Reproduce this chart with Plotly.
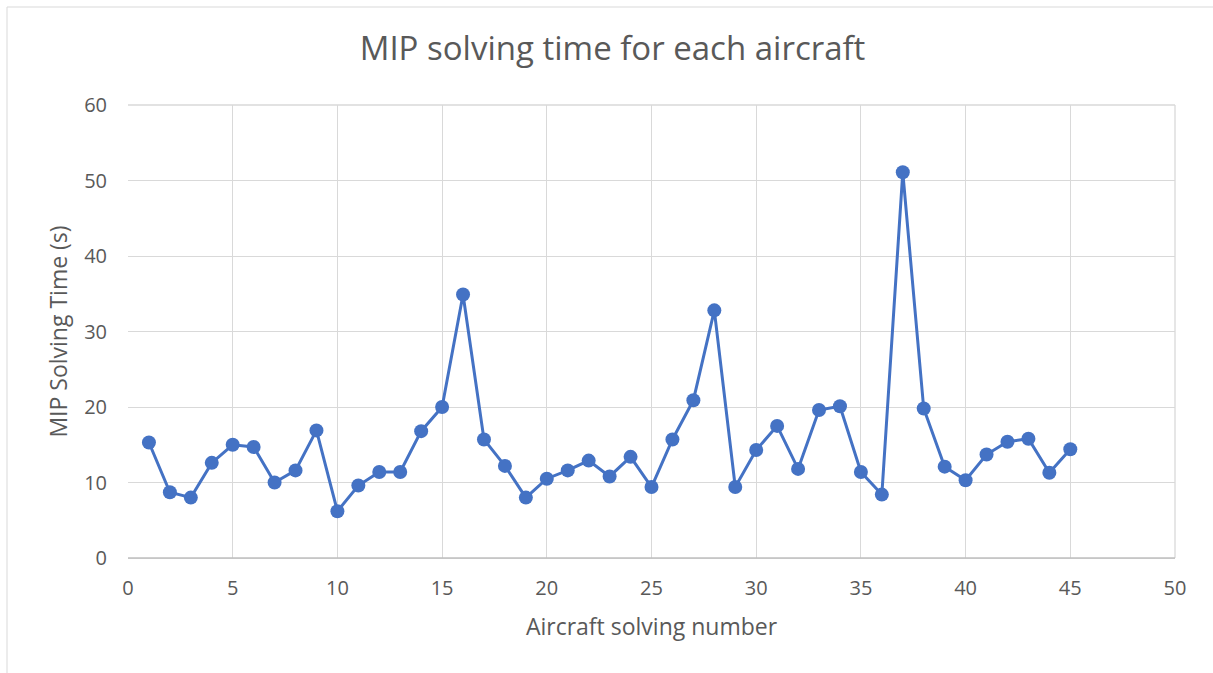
import plotly.graph_objects as go

aircraft_number = list(range(1, 46))
solving_time = [
    15.3, 8.7, 8.0, 12.6, 15.0, 14.7, 10.0, 11.6, 16.9, 6.2,
    9.6, 11.4, 11.4, 16.8, 20.0, 34.9, 15.7, 12.2, 8.0, 10.5,
    11.6, 12.9, 10.8, 13.4, 9.4, 15.7, 20.9, 32.8, 9.4, 14.3,
    17.5, 11.8, 19.6, 20.1, 11.4, 8.4, 51.1, 19.8, 12.1, 10.3,
    13.7, 15.4, 15.8, 11.3, 14.4,
]
x_ticks = [0, 5, 10, 15, 20, 25, 30, 35, 40, 45, 50]
y_ticks = [0, 10, 20, 30, 40, 50, 60]

W, H = 1213, 673
L, R, T, B = 128, 38, 105, 115
pw, ph = W - L - R, H - T - B

def px_to_paper(x, y):
    return (x - L) / pw, (H - B - y) / ph

text_col = "#595959"
font_family = "'Open Sans', sans-serif"

fig = go.Figure()
fig.add_trace(go.Scatter(
    x=aircraft_number, y=solving_time,
    mode="lines+markers",
    line=dict(color="#4472C4", width=3),
    marker=dict(color="#4472C4", size=14),
    showlegend=False,
))

# outer chart border
x0, y0 = px_to_paper(7, 7)
x1, y1 = px_to_paper(W + 10, H + 10)
fig.add_shape(type="rect", xref="paper", yref="paper",
              x0=x0, y0=y1, x1=x1, y1=y0,
              line=dict(color="#D9D9D9", width=1), fillcolor="rgba(0,0,0,0)",
              layer="below")

fig.update_layout(
    width=W, height=H,
    margin=dict(l=L, r=R, t=T, b=B),
    paper_bgcolor="white", plot_bgcolor="white",
    font=dict(family=font_family, color=text_col),
    title=dict(text="MIP solving time for each aircraft",
               x=0.505, xanchor="center", y=1 - 48 / H, yanchor="middle",
               font=dict(size=33, color=text_col, family=font_family)),
    xaxis=dict(
        range=[0, 50], tickvals=x_ticks, ticktext=[str(v) for v in x_ticks],
        showgrid=True, gridcolor="#D9D9D9", gridwidth=1.3,
        zeroline=False, showline=True, linecolor="#D9D9D9", linewidth=1.3,
        mirror=False, ticks="", tickfont=dict(size=20, color=text_col),
        ticklabelstandoff=12,
        title=dict(text="Aircraft solving number", font=dict(size=23, color=text_col),
                   standoff=18),
    ),
    yaxis=dict(
        range=[0, 60], tickvals=y_ticks, ticktext=[str(v) for v in y_ticks],
        showgrid=True, gridcolor="#D9D9D9", gridwidth=1.3,
        zeroline=False, showline=False, ticks="",
        tickfont=dict(size=20, color=text_col),
        ticklabelstandoff=20,
        title=dict(text="MIP Solving Time (s)", font=dict(size=23, color=text_col),
                   standoff=10),
    ),
)
# top and right edges of the plot frame
fig.add_shape(type="line", xref="paper", yref="paper", x0=0, x1=1, y0=1, y1=1,
              line=dict(color="#D9D9D9", width=1.3), layer="below")
fig.add_shape(type="line", xref="paper", yref="paper", x0=1, x1=1, y0=0, y1=1,
              line=dict(color="#D9D9D9", width=1.3), layer="below")
fig.add_shape(type="line", xref="paper", yref="paper", x0=0, x1=1, y0=0, y1=0,
              line=dict(color="#BFBFBF", width=1.5), layer="above")

fig.write_html("out.html")
